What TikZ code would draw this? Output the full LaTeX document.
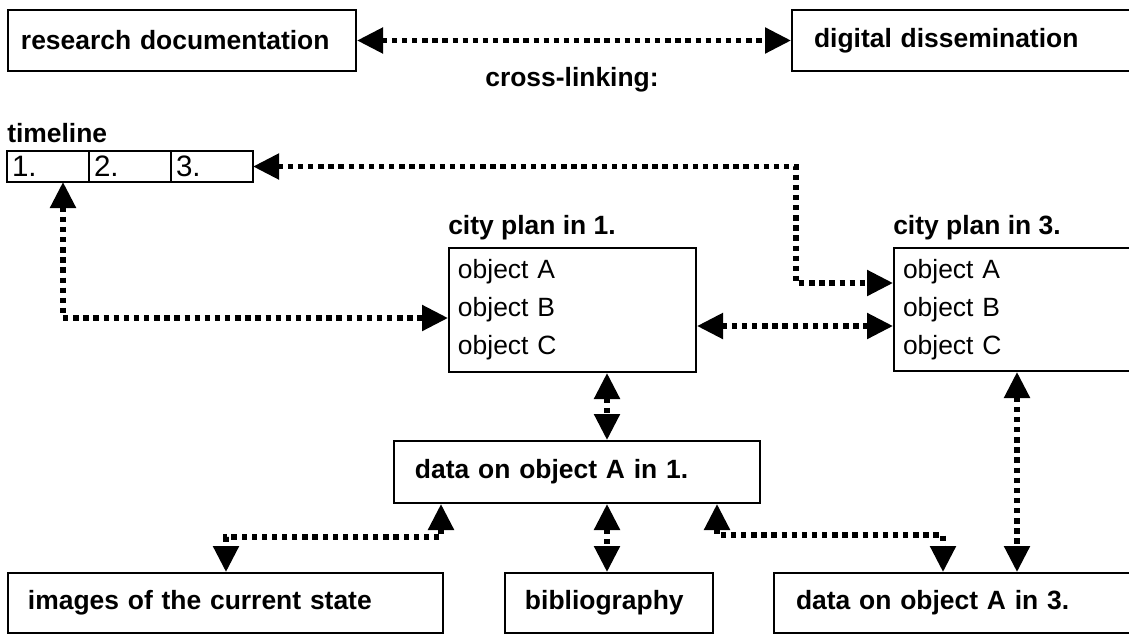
\documentclass[tikz,border=0pt]{standalone}
\usepackage{fontspec}
\setmainfont{Liberation Sans}
\usetikzlibrary{arrows.meta,positioning}
\tikzset{box/.style={draw, line width=1.4pt, anchor=north west, align=left,
  font=\bfseries\fontsize{18.8}{22}\selectfont}}
\tikzset{cell/.style={draw, line width=1.4pt, anchor=north west, align=left,
  outer sep=0pt, inner xsep=0.125cm, inner ysep=0pt, text width=1.8cm,
  minimum height=0.775cm, font=\fontsize{21}{22}\selectfont}}
\tikzset{plan/.style={draw, line width=1.4pt, anchor=north west, align=left,
  inner xsep=0.225cm, font=\fontsize{18.8}{27}\selectfont}}
\tikzset{lbl/.style={inner sep=0pt, anchor=base west,
  font=\bfseries\fontsize{18.8}{22}\selectfont}}
\tikzset{link/.style={line width=3.8pt, dash pattern=on 3.8pt off 3.4pt,
  {Triangle[length=0.65cm,width=0.625cm]}-{Triangle[length=0.65cm,width=0.625cm]}}}

\begin{document}
\begin{tikzpicture}[x=0.025cm, y=-0.025cm]
\useasboundingbox (0,0) rectangle (1129,634);

% top row
\node[box, inner xsep=0.325cm, text width=8.05cm, minimum height=1.525cm] (research) at (7,9) {research documentation};
\node[box, inner xsep=0.55cm, text width=7.9cm, minimum height=1.525cm] (digital) at (791,9) {digital dissemination};
\node[font=\bfseries\fontsize{18.8}{22}\selectfont] (xlink) at (572,80) {cross-linking:};

% timeline
\node[cell] (t1) at (7,151) {1.};
\node[cell, right=0pt of t1] (t2) {2.};
\node[cell, right=0pt of t2] (t3) {3.};
\node[lbl] (tllbl) at ([yshift=0.225cm]t1.north west) {timeline};

% city plans
\node[plan, text width=5.725cm, minimum height=3.1cm] (city1) at (448,247) {object A\\object B\\object C};
\node[lbl] (c1lbl) at ([yshift=0.325cm]city1.north west) {city plan in 1.};
\node[plan, text width=5.975cm, minimum height=3.075cm] (city3) at (893,247) {object A\\object B\\object C};
\node[lbl] (c3lbl) at ([yshift=0.325cm]city3.north west) {city plan in 3.};

% data boxes
\node[box, inner xsep=0.525cm, text width=8.1cm, minimum height=1.55cm] (data1) at (393,440) {data on object A in 1.};
\node[box, inner xsep=0.5cm, text width=9.875cm, minimum height=1.5cm] (images) at (7,572) {images of the current state};
\node[box, inner xsep=0.5cm, text width=4.2cm, minimum height=1.5cm] (bib) at (504,572) {bibliography};
\node[box, inner xsep=0.55cm, text width=8.325cm, minimum height=1.5cm] (data3) at (773,572) {data on object A in 3.};

% bends and columns
\coordinate (jogA) at (796,283);
\coordinate (jogB) at (63,318);
\coordinate (midrow) at (795,326);
\coordinate (colA) at (607,0);
\coordinate (colB) at (1017,0);
\coordinate (jogC) at (441,537);
\coordinate (jogD) at (226,537);
\coordinate (jogE) at (717,535);
\coordinate (jogF) at (943,535);

% cross links
\draw[link] (research) -- (digital);
\draw[link] (t3.east) -| (jogA) -- (jogA -| city3.west);
\draw[link] (t1.south -| jogB) |- (city1.west |- jogB);
\draw[link] (city1.east |- midrow) -- (city3.west |- midrow);
\draw[link] (city1.south -| colA) -- (data1.north -| colA);
\draw[link] (data1.south -| colA) -- (bib.north -| colA);
\draw[link] (data1.south -| jogC) |- (jogD) -- (images.north -| jogD);
\draw[link] (data1.south -| jogE) |- (jogF) -- (data3.north -| jogF);
\draw[link] (city3.south -| colB) -- (data3.north -| colB);
\end{tikzpicture}
\end{document}
